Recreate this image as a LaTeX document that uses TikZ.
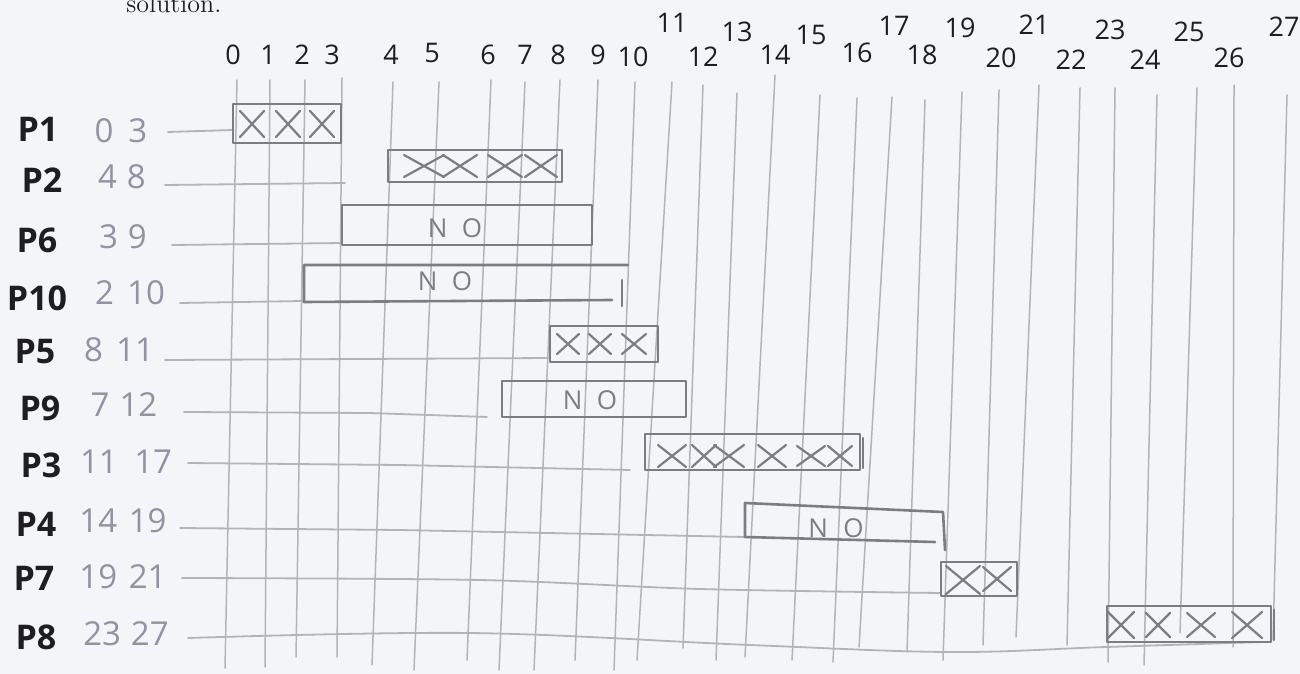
\documentclass[tikz,border=0pt]{standalone}
\usepackage{fontspec}
\newfontfamily\hand{Open Sans}
\definecolor{paper}{HTML}{F3F5F9}
\definecolor{gridc}{HTML}{B2B4BA}
\definecolor{pencil}{HTML}{7C7D84}
\definecolor{ink}{HTML}{1E1E22}
\definecolor{soft}{HTML}{9491A2}
\begin{document}
\begin{tikzpicture}[x=0.5pt,y=-0.5pt,
  gridline/.style={draw=gridc,line width=0.75pt,line cap=round},
  rowline/.style={draw=gridc,line width=0.9pt,line cap=round,line join=round},
  boxc/.style={draw=pencil,line width=1.3pt,line join=round,line cap=round},
  crossline/.style={draw=pencil,line width=1.1pt,line cap=round},
  tick/.style={text=ink,font=\hand\fontsize{13.5}{13.5}\selectfont,inner sep=0pt},
  pname/.style={text=ink,font=\hand\bfseries\fontsize{17}{17}\selectfont,inner sep=0pt},
  ptime/.style={text=soft,font=\hand\fontsize{16.5}{16.5}\selectfont,inner sep=0pt},
  notext/.style={text=pencil,font=\hand\fontsize{13}{13}\selectfont,inner sep=0pt}]
\fill[paper] (0,0) rectangle (1300,674);
\useasboundingbox (0,0) rectangle (1300,674);
\newcommand\pcross[4]{\draw[crossline] (#1-#3,#2-#4) -- (#1+#3,#2+#4) (#1-#3,#2+#4) -- (#1+#3,#2-#4);}
% header text
\node[anchor=base west,text=ink,font=\fontsize{13}{14}\selectfont,inner sep=0pt] (sol) at (126,13) {solution.};
% grid lines
\foreach \tx/\ty/\bx/\by in {237/80/225/668, 270/80/265/667, 305/80/296/657, 342/78/337/657,
  393/82/372/665, 439/82/414/670, 491/80/467/660, 525/82/499/670, 560/80/534/670,
  598/80/575/660, 635/82/614/670, 672/82/637/660, 703/85/683/648, 737/93/716/660,
  775/75/745/657, 820/95/792/660, 857/98/833/662, 892/97/859/647, 925/100/907/652,
  962/92/943/660, 999/90/983/645, 1039/85/1016/637, 1080/88/1067/645, 1115/88/1108/662,
  1157/95/1144/665, 1197/88/1180/633, 1234/85/1233/647, 1287/95/1273/640}
  {\draw[gridline] (\tx,\ty) -- (\bx,\by);}
% tick labels
\foreach \n/\x/\y in {0/233/55, 1/268/55, 2/302/55, 3/332/55, 4/391/55, 5/432/53, 6/488/55,
  7/525/55, 8/558/55, 9/598/55, 10/633/57, 11/672/23, 12/703/57, 13/737/32, 14/775/55,
  15/811/35, 16/857/53, 17/894/26, 18/922/55, 19/960/28, 20/1001/58, 21/1034/25,
  22/1071/60, 23/1110/30, 24/1145/60, 25/1189/32, 26/1229/58, 27/1284/27}
  {\node[tick] (t\n) at (\x,\y) {\n};}
% row labels
\node[pname] (n1) at (38,129) {P1};   \node[ptime] (r1) at (121,131) {0\hspace{0.45em}3};
\node[pname] (n2) at (42,180) {P2};   \node[ptime] (r2) at (122,177) {4\hspace{0.3em}8};
\node[pname] (n6) at (37,240) {P6};   \node[ptime] (r6) at (123,237) {3\hspace{0.3em}9};
\node[pname] (n10) at (37,298) {P10}; \node[ptime] (r10) at (130,293) {2\hspace{0.4em}10};
\node[pname] (n5) at (35,352) {P5};   \node[ptime] (r5) at (119,350) {8\hspace{0.4em}11};
\node[pname] (n9) at (40,408) {P9};   \node[ptime] (r9) at (124,405) {7\hspace{0.3em}12};
\node[pname] (n3) at (41,465) {P3};   \node[ptime] (r3) at (126,462) {11\hspace{0.5em}17};
\node[pname] (n4) at (36,524) {P4};   \node[ptime] (r4) at (123,521) {14\hspace{0.35em}19};
\node[pname] (n7) at (34,578) {P7};   \node[ptime] (r7) at (123,577) {19\hspace{0.35em}21};
\node[pname] (n8) at (36,637) {P8};   \node[ptime] (r8) at (126,634) {23\hspace{0.3em}27};
% row lines
\draw[rowline] (168,132) -- (233,130);
\draw[rowline] (165,185) -- (345,183);
\draw[rowline] (172,245) -- (342,243);
\draw[rowline] (180,303) -- (303,301);
\draw[rowline] (165,360) -- (550,358);
\draw[rowline] (184,412) -- (370,413) -- (487,417);
\draw[rowline] (188,463) -- (400,465) -- (630,470);
\draw[rowline] (180,528) -- (400,530) -- (745,537);
\draw[rowline] plot[smooth,tension=0.5] coordinates {(182,578) (480,580) (700,589) (940,593)};
\draw[rowline] plot[smooth,tension=0.6] coordinates {(188,638) (470,633) (750,645) (950,652) (1106,647) (1262,642)};
% P1
\draw[boxc] (233,104) rectangle (341,143);
\pcross{252}{124}{12}{13} \pcross{288}{124}{12}{13} \pcross{322}{124}{12}{13}
% P2
\draw[boxc] (388,150) rectangle (562,182);
\pcross{424}{166}{20}{11} \pcross{460}{166}{17}{11} \pcross{505}{166}{17}{11} \pcross{541}{166}{16}{11}
% P6
\draw[boxc] (342,205) rectangle (592,245);
\node[notext] (no6) at (455,228) {N\hspace{0.55em}O};
% P10
\draw[boxc] (628,265) -- (304,265) -- (304,302) -- (612,300);
\draw[boxc] (622,280) -- (622,306);
\node[notext] (no10) at (445,281) {N\hspace{0.55em}O};
% P5
\draw[boxc] (550,326) rectangle (658,362);
\pcross{568}{344}{11}{10} \pcross{600}{344}{11}{10} \pcross{634}{344}{12}{10}
% P9
\draw[boxc] (502,381) rectangle (686,417);
\node[notext] (no9) at (590,400) {N\hspace{0.55em}O};
% P3
\draw[boxc] (645,434) rectangle (860,470);
\draw[boxc] (863,438) -- (863,468);
\pcross{672}{456}{14}{11} \pcross{704}{456}{12}{11} \pcross{729}{456}{15}{11}
\pcross{772}{456}{14}{11} \pcross{811}{456}{14}{10} \pcross{840}{456}{12}{10}
% P4
\draw[boxc] (745,537) -- (745,503) -- (943,512) -- (945,550);
\draw[boxc] (745,537) -- (935,542);
\node[notext] (no4) at (836,528) {N\hspace{0.6em}O};
% P7
\draw[boxc] (941,562) rectangle (1017,596);
\pcross{963}{580}{17}{14} \pcross{997}{579}{14}{12}
% P8
\draw[boxc] (1107,606) rectangle (1271,642);
\draw[boxc] (1274,610) -- (1274,640);
\pcross{1121}{625}{13}{13} \pcross{1158}{625}{12}{12} \pcross{1201}{625}{14}{12} \pcross{1247}{625}{15}{13}
\end{tikzpicture}
\end{document}
